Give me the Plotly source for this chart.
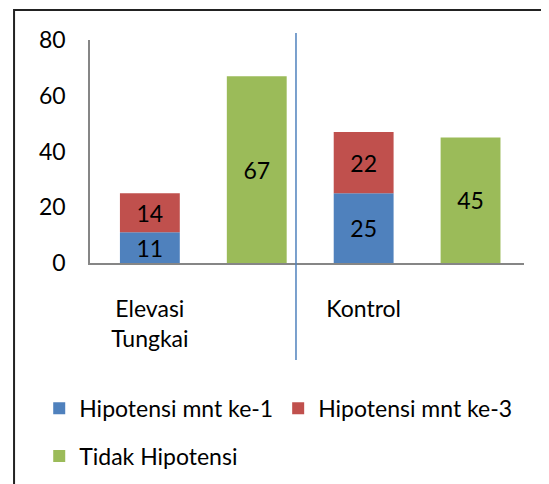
import plotly.graph_objects as go

categories = ["Elevasi<br>Tungkai", "Kontrol"]
hipotensi_1 = [11, 25]
hipotensi_3 = [14, 22]
tidak_hipotensi = [67, 45]
y_ticks = [0, 20, 40, 60, 80]

FONT = "Lato"
FS = 23

stack_x = [2 * i for i in range(len(categories))]
green_x = [2 * i + 1 for i in range(len(categories))]

fig = go.Figure()
common = dict(width=0.56, textposition="inside", insidetextanchor="middle",
              textangle=0, textfont=dict(family=FONT, size=FS, color="black"),
              texttemplate="%{y}", marker_line_width=0)
fig.add_trace(go.Bar(x=stack_x, y=hipotensi_1, name="Hipotensi mnt ke-1",
                     marker_color="#4F81BD", legend="legend", **common))
fig.add_trace(go.Bar(x=stack_x, y=hipotensi_3, name="Hipotensi mnt ke-3",
                     marker_color="#C0504D", legend="legend", **common))
fig.add_trace(go.Bar(x=green_x, y=tidak_hipotensi, name="Tidak Hipotensi",
                     marker_color="#9BBB59", legend="legend2", **common))

fig.update_layout(
    width=541, height=476,
    margin=dict(l=82, r=25, t=32, b=221, autoexpand=False),
    barmode="relative",
    plot_bgcolor="white", paper_bgcolor="white",
    font=dict(family=FONT, size=FS, color="black"),
    uniformtext=dict(minsize=FS, mode="show"),
    xaxis=dict(range=[-0.56, 3.5], tickmode="array", tickvals=stack_x,
               ticktext=categories, showgrid=False, zeroline=False,
               showline=True, linecolor="#868686", linewidth=1.5,
               ticks="", ticklabelstandoff=25),
    yaxis=dict(range=[0, 80], tickmode="array", tickvals=y_ticks,
               showgrid=False, zeroline=False, showline=True,
               linecolor="#868686", linewidth=1.5, ticks="",
               ticklabelstandoff=18),
    legend=dict(orientation="h", x=-0.117, xanchor="left", y=-0.652,
                yanchor="middle", font=dict(family=FONT, size=FS),
                bgcolor="rgba(0,0,0,0)"),
    legend2=dict(orientation="h", x=-0.117, xanchor="left", y=-0.866,
                 yanchor="middle", font=dict(family=FONT, size=FS),
                 bgcolor="rgba(0,0,0,0)"),
    showlegend=True,
)

# separator line between groups
fig.add_shape(type="line", xref="x", yref="paper", x0=1.367, x1=1.367,
              y0=-0.435, y1=1.031, line=dict(color="#4F81BD", width=1.5))
# chart border
fig.add_shape(type="rect", xref="paper", yref="paper", x0=-0.175, x1=1.3,
              y0=-2.0, y1=1.1345, line=dict(color="#222222", width=2),
              fillcolor="rgba(0,0,0,0)")

fig.write_html("out.html")
